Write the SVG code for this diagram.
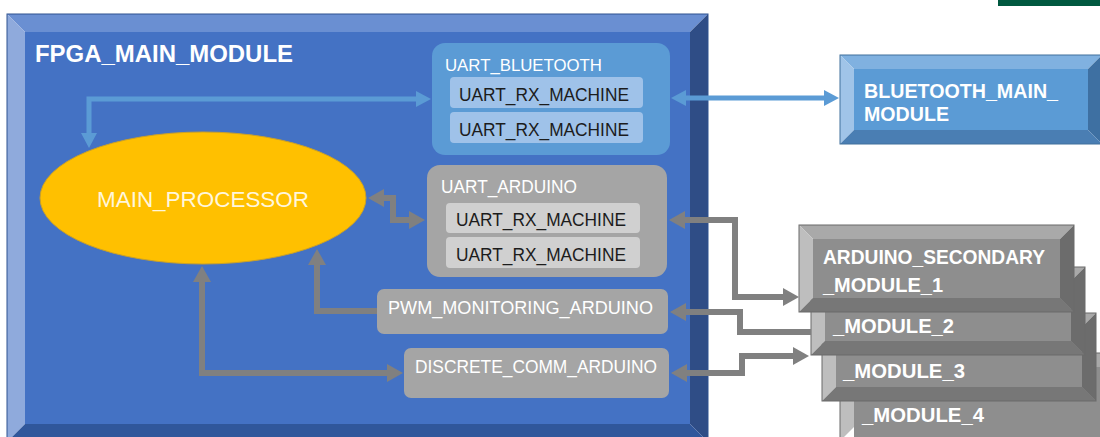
<svg xmlns="http://www.w3.org/2000/svg" width="1100" height="437" viewBox="0 0 1100 437">
<style>
.t{font-family:"Liberation Sans",Arial,sans-serif}
.b{font-weight:bold;fill:#ffffff}
.w{fill:#ffffff}
.d{fill:#1c1c1c}
.bl{stroke:#5b9bd5;stroke-width:5;fill:none}
.gr{stroke:#808080;stroke-width:6;fill:none}
.gface{fill:#8e8e8e}
.gtop{fill:#a9a9a9}
.gleft{fill:#bebebe}
.gright{fill:#6c6c6c}
.gbot{fill:#777777}
.gout{fill:none;stroke:#6a6a6a;stroke-width:1}
</style>
<defs>
<marker id="ab" viewBox="0 0 15 16" markerWidth="15" markerHeight="16" refX="1" refY="8" orient="auto-start-reverse" markerUnits="userSpaceOnUse">
<path d="M0,0 L15,8 L0,16 z" fill="#5b9bd5"/>
</marker>
<marker id="ag" viewBox="0 0 16 18" markerWidth="16" markerHeight="18" refX="1" refY="9" orient="auto-start-reverse" markerUnits="userSpaceOnUse">
<path d="M0,0 L16,9 L0,18 z" fill="#808080"/>
</marker>
</defs>
<rect width="1100" height="437" fill="#ffffff"/>
<rect x="998" y="0" width="102" height="6" fill="#00583f"/>

<g id="fpga_main_module">
<rect x="25" y="32" width="665" height="392" fill="#4472c4"/>
<polygon points="7,14 708,14 690,32 25,32" fill="#6a8fd2"/>
<polygon points="7,14 25,32 25,424 7,442" fill="#8faadc"/>
<polygon points="708,14 708,442 690,424 690,32" fill="#2f4d86"/>
<polygon points="7,442 25,424 690,424 708,442" fill="#30579b"/>
<rect x="7" y="14" width="701" height="428" fill="none" stroke="#2f528f" stroke-width="1"/>
<text class="t b" x="35" y="62" font-size="23.5" textLength="258" lengthAdjust="spacingAndGlyphs">FPGA_MAIN_MODULE</text>
</g>

<g id="uart_bluetooth">
<rect x="432" y="43" width="238" height="112" rx="13" fill="#5b9bd5"/>
<text class="t w" x="445" y="71" font-size="17" textLength="157" lengthAdjust="spacingAndGlyphs">UART_BLUETOOTH</text>
<rect x="450" y="77" width="193" height="31" rx="4" fill="#9fc2e9"/>
<text class="t d" x="459" y="101" font-size="19" textLength="170" lengthAdjust="spacingAndGlyphs">UART_RX_MACHINE</text>
<rect x="450" y="112" width="193" height="31" rx="4" fill="#9fc2e9"/>
<text class="t d" x="459" y="136" font-size="19" textLength="170" lengthAdjust="spacingAndGlyphs">UART_RX_MACHINE</text>
</g>

<g id="uart_arduino">
<rect x="427" y="165" width="240" height="112" rx="13" fill="#a5a5a5"/>
<text class="t w" x="441" y="193" font-size="18" textLength="136" lengthAdjust="spacingAndGlyphs">UART_ARDUINO</text>
<rect x="446" y="203" width="194" height="30" rx="4" fill="#d0d0d0"/>
<text class="t d" x="456" y="226" font-size="19" textLength="170" lengthAdjust="spacingAndGlyphs">UART_RX_MACHINE</text>
<rect x="446" y="237" width="194" height="31" rx="4" fill="#d0d0d0"/>
<text class="t d" x="456" y="261" font-size="19" textLength="170" lengthAdjust="spacingAndGlyphs">UART_RX_MACHINE</text>
</g>

<g id="main_processor">
<ellipse cx="203" cy="198" rx="163" ry="66" fill="#ffc000" stroke="#c9a02a" stroke-width="1"/>
<text class="t" x="97" y="207" font-size="22.5" fill="#fff6dc" textLength="212" lengthAdjust="spacingAndGlyphs">MAIN_PROCESSOR</text>
</g>

<g id="pwm_monitoring_arduino">
<rect x="377" y="289" width="291" height="45" rx="7" fill="#a5a5a5"/>
<text class="t w" x="388" y="314" font-size="18.5" textLength="265" lengthAdjust="spacingAndGlyphs">PWM_MONITORING_ARDUINO</text>
</g>

<g id="discrete_comm_arduino">
<rect x="404" y="348" width="265" height="50" rx="7" fill="#a5a5a5"/>
<text class="t w" x="415" y="373" font-size="18.5" textLength="242" lengthAdjust="spacingAndGlyphs">DISCRETE_COMM_ARDUINO</text>
</g>

<g id="bluetooth_main_module">
<rect x="854" y="69" width="234" height="61" fill="#5b9bd5"/>
<polygon points="840,55 1102,55 1088,69 854,69" fill="#80b1e0"/>
<polygon points="840,55 854,69 854,130 840,144" fill="#a0c4e8"/>
<polygon points="1102,55 1102,144 1088,130 1088,69" fill="#3e70a2"/>
<polygon points="840,144 854,130 1088,130 1102,144" fill="#4a7eb3"/>
<rect x="840" y="55" width="262" height="89" fill="none" stroke="#41719c" stroke-width="1"/>
<text class="t b" x="864" y="98" font-size="20.5" textLength="194" lengthAdjust="spacingAndGlyphs">BLUETOOTH_MAIN_</text>
<text class="t b" x="864" y="121" font-size="20.5" textLength="85" lengthAdjust="spacingAndGlyphs">MODULE</text>
</g>

<g id="arduino_secondary_module_4">
<rect class="gface" x="854" y="367" width="246" height="70"/>
<polygon class="gtop" points="840,353 1114,353 1100,367 854,367"/>
<polygon class="gleft" points="840,353 854,367 854,427 840,441"/>
<rect class="gout" x="840" y="353" width="274" height="88"/>
<text class="t b" x="862" y="422" font-size="20.5" textLength="122" lengthAdjust="spacingAndGlyphs">_MODULE_4</text>
</g>

<g id="arduino_secondary_module_3">
<rect class="gface" x="836" y="327" width="246" height="60"/>
<polygon class="gtop" points="822,313 1096,313 1082,327 836,327"/>
<polygon class="gleft" points="822,313 836,327 836,387 822,401"/>
<polygon class="gright" points="1096,313 1096,401 1082,387 1082,327"/>
<polygon class="gbot" points="822,401 836,387 1082,387 1096,401"/>
<rect class="gout" x="822" y="313" width="274" height="88"/>
<text class="t b" x="843" y="378" font-size="20.5" textLength="122" lengthAdjust="spacingAndGlyphs">_MODULE_3</text>
</g>

<g id="arduino_secondary_module_2">
<rect class="gface" x="825" y="281" width="246" height="60"/>
<polygon class="gtop" points="811,267 1085,267 1071,281 825,281"/>
<polygon class="gleft" points="811,267 825,281 825,341 811,355"/>
<polygon class="gright" points="1085,267 1085,355 1071,341 1071,281"/>
<polygon class="gbot" points="811,355 825,341 1071,341 1085,355"/>
<rect class="gout" x="811" y="267" width="274" height="88"/>
<text class="t b" x="833" y="333" font-size="20.5" textLength="121" lengthAdjust="spacingAndGlyphs">_MODULE_2</text>
</g>

<g id="arduino_secondary_module_1">
<rect class="gface" x="813" y="239" width="247" height="59"/>
<polygon class="gtop" points="799,225 1074,225 1060,239 813,239"/>
<polygon class="gleft" points="799,225 813,239 813,298 799,312"/>
<polygon class="gright" points="1074,225 1074,312 1060,298 1060,239"/>
<polygon class="gbot" points="799,312 813,298 1060,298 1074,312"/>
<rect class="gout" x="799" y="225" width="275" height="87"/>
<text class="t b" x="823" y="264" font-size="20.5" textLength="222" lengthAdjust="spacingAndGlyphs">ARDUINO_SECONDARY</text>
<text class="t b" x="823" y="292" font-size="20.5" textLength="120" lengthAdjust="spacingAndGlyphs">_MODULE_1</text>
</g>

<g id="connectors">
<path class="bl" d="M89,134 V99 H417" marker-start="url(#ab)" marker-end="url(#ab)"/>
<path class="bl" d="M685,98 H825" marker-start="url(#ab)" marker-end="url(#ab)"/>
<path class="gr" d="M383,198 H393 V220 H410" marker-start="url(#ag)" marker-end="url(#ag)"/>
<path class="gr" d="M684,220 H735 V297 H784" marker-start="url(#ag)" marker-end="url(#ag)"/>
<path class="gr" d="M685,312 H740 V332 H811" marker-start="url(#ag)"/>
<path class="gr" d="M686,373 H742 V356 H794" marker-start="url(#ag)" marker-end="url(#ag)"/>
<path class="gr" d="M377,311 H317 V264" marker-end="url(#ag)"/>
<path class="gr" d="M202,281 V373 H388" marker-start="url(#ag)" marker-end="url(#ag)"/>
</g>
</svg>
